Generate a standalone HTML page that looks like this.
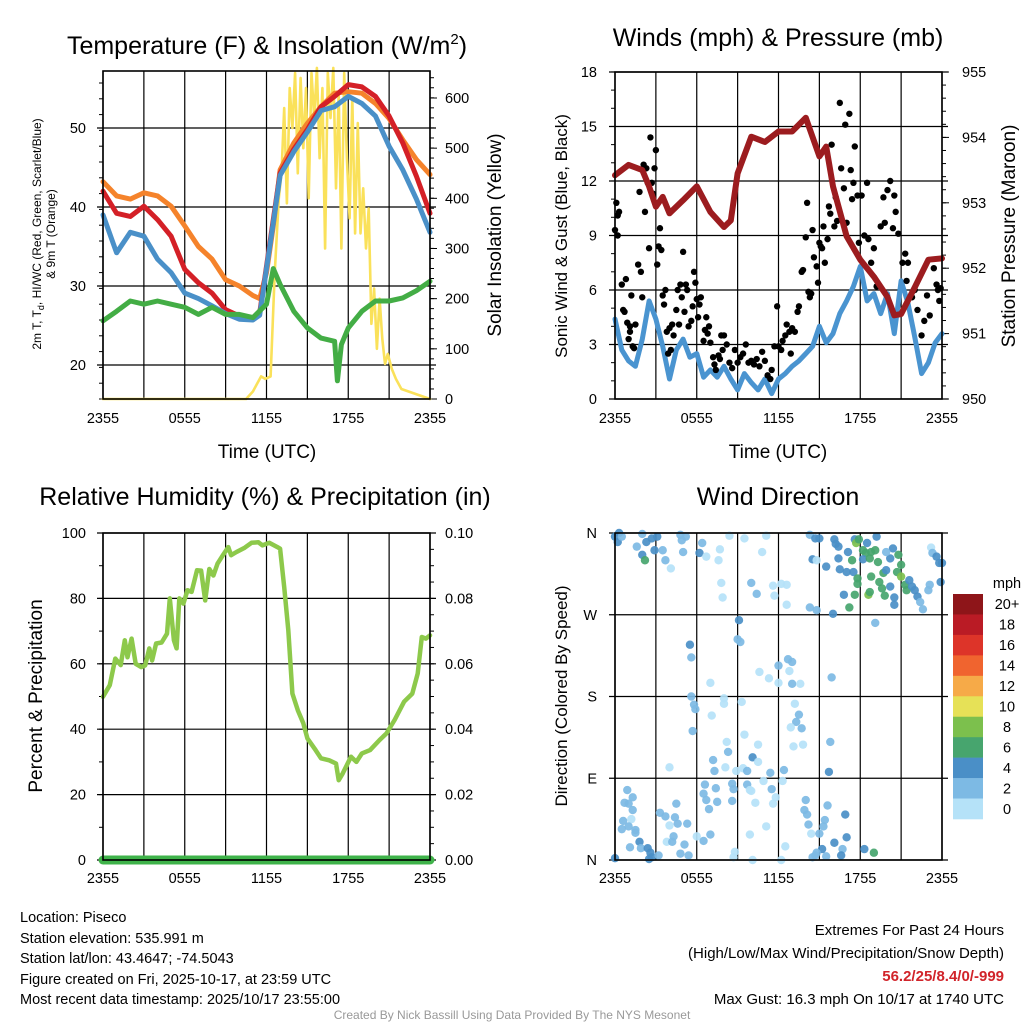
<!DOCTYPE html>
<html><head><meta charset="utf-8"><style>
body{margin:0;background:#fff;}
svg{display:block;font-family:"Liberation Sans",Arial,sans-serif;}
</style></head><body>
<svg id="s" width="1024" height="1024" viewBox="0 0 1024 1024">
<rect width="1024" height="1024" fill="#fff"/>
<g id="g1"></g>
<g id="g2"></g>
<g id="g3"></g>
<g id="g4"></g>
<g id="txt">
<text x="267" y="54" font-size="25" text-anchor="middle">Temperature (F) &amp; Insolation (W/m<tspan font-size="15" dy="-10">2</tspan><tspan dy="10">)</tspan></text>
<text x="778" y="46" font-size="25" text-anchor="middle">Winds (mph) &amp; Pressure (mb)</text>
<text x="265" y="505" font-size="25" text-anchor="middle">Relative Humidity (%) &amp; Precipitation (in)</text>
<text x="778" y="505" font-size="25" text-anchor="middle">Wind Direction</text>
<text x="267" y="458" font-size="19" text-anchor="middle">Time (UTC)</text>
<text x="778" y="458" font-size="19" text-anchor="middle">Time (UTC)</text>
<text transform="translate(41,234) rotate(-90)" font-size="12" text-anchor="middle">2m T, T<tspan font-size="9" dy="3">d</tspan><tspan dy="-3">, HI/WC (Red, Green, Scarlet/Blue)</tspan></text>
<text transform="translate(55,234) rotate(-90)" font-size="12" text-anchor="middle">&amp; 9m T (Orange)</text>
<text transform="translate(501,235) rotate(-90)" font-size="19" text-anchor="middle">Solar Insolation (Yellow)</text>
<text transform="translate(567,236) rotate(-90)" font-size="17" text-anchor="middle">Sonic Wind &amp; Gust (Blue, Black)</text>
<text transform="translate(1015,236) rotate(-90)" font-size="19" text-anchor="middle">Station Pressure (Maroon)</text>
<text transform="translate(42,696) rotate(-90)" font-size="19" text-anchor="middle">Percent &amp; Precipitation</text>
<text transform="translate(567,696) rotate(-90)" font-size="17" text-anchor="middle">Direction (Colored By Speed)</text>
<g font-size="14.5">
<text x="20" y="922">Location: Piseco</text>
<text x="20" y="943">Station elevation: 535.991 m</text>
<text x="20" y="963">Station lat/lon: 43.4647; -74.5043</text>
<text x="20" y="984">Figure created on Fri, 2025-10-17, at 23:59 UTC</text>
<text x="20" y="1004">Most recent data timestamp: 2025/10/17 23:55:00</text>
</g>
<g font-size="15" text-anchor="end">
<text x="1004" y="935">Extremes For Past 24 Hours</text>
<text x="1004" y="958">(High/Low/Max Wind/Precipitation/Snow Depth)</text>
<text x="1004" y="981" fill="#d1242a" font-weight="bold">56.2/25/8.4/0/-999</text>
<text x="1004" y="1004">Max Gust: 16.3 mph On 10/17 at 1740 UTC</text>
</g>
<text x="512" y="1019" font-size="12" fill="#999" text-anchor="middle">Created By Nick Bassill Using Data Provided By The NYS Mesonet</text>
</g>
</svg>
<script>
// ---------- Temperature panel data ----------
const tempHours=[0,1,2,3,4,5,6,7,8,9,10,11,11.5,12,12.5,13,14,15,16,17,18,19,20,21,22,23,24];
const tempRed=[42.0,39.2,38.8,40.1,38.4,36.3,32.1,30.4,29.1,27.0,26.2,26.0,26.6,32.5,38.4,44.3,47.3,49.8,52.7,54.0,55.5,55.2,54.0,51.5,48.1,43.9,39.2];
const tempOrange=[43.2,41.4,41.0,41.8,41.4,40.1,37.6,35.0,33.4,30.8,30.0,28.8,28.4,31.7,37.6,44.7,48.1,50.6,52.7,54.4,54.6,54.4,53.1,51.2,48.5,46.0,44.1];
const tempBlue=[39.0,34.2,36.8,36.3,33.4,31.7,29.1,28.4,27.5,26.5,25.8,25.7,26.3,32.2,38.0,44.0,47.0,49.5,52.2,52.7,54.0,53.1,51.5,47.7,44.7,41.0,36.8];
const dewHours=[0,1,2,3,4,5,6,7,8,9,10,11,12,12.5,13,14,15,16,17,17.2,17.5,18,19,20,21,22,23,24];
const dewGreen=[25.6,26.8,28.1,27.7,28.1,27.7,27.3,26.4,27.3,26.4,26.4,26.0,27.7,32.2,30.2,26.8,24.7,23.4,23.0,18.0,22.6,24.7,26.8,28.1,28.1,28.5,29.4,30.6];
const solarHours=[0,10.5,11,11.3,11.6,11.9,12.3,12.6,12.9,13.1,13.3,13.5,13.7,13.9,14.1,14.3,14.5,14.7,14.9,15.1,15.3,15.5,15.7,15.9,16.1,16.3,16.5,16.7,16.9,17.1,17.3,17.5,17.7,17.9,18.1,18.3,18.5,18.7,18.9,19.1,19.3,19.5,19.7,19.9,20.1,20.3,20.5,20.7,20.9,21.2,21.5,21.9,24];
const solarVals=[0,0,15,30,45,40,45,250,400,450,580,390,620,540,650,450,640,500,620,400,650,560,660,480,620,300,650,560,660,420,610,300,650,480,360,600,330,550,330,420,300,380,150,220,100,200,120,70,90,60,40,20,0,0];
const tempTicks=[20,30,40,50];
const solarTicks=[0,100,200,300,400,500,600];
const timeLabels=["2355","0555","1155","1755","2355"];
// ---------- Winds panel data ----------
const presHours=[0,1,2,2.5,3,3.5,4,5,6,7,8,8.5,9,10,11,12,13,14,15,15.5,16,17,18,19,20,20.5,21,22,23,24];
const presVals=[953.42,953.58,953.5,953.25,952.94,953.09,952.84,953.04,953.25,952.86,952.63,952.73,953.45,954.01,953.93,954.09,954.09,954.3,953.71,953.86,953.25,952.49,952.13,951.87,951.56,951.28,951.3,951.71,952.13,952.15];
const windHours=[0,0.5,1,1.5,2,2.5,3,3.5,4,4.5,5,5.5,6,6.5,7,7.5,8,8.5,9,9.5,10,10.5,11,11.5,12,12.5,13,13.5,14,14.5,15,15.5,16,16.5,17,17.5,18,18.5,19,19.5,20,20.5,21,21.5,22,22.5,23,23.5,24];
const windVals=[4.4,2.7,2.1,1.8,3.3,5.4,4.4,2.9,1.1,2.7,3.3,2.3,2.5,1.2,1.6,1.2,1.8,1.1,0.5,1.4,0.9,0.5,1.1,0.3,1.1,1.4,1.8,2.1,2.5,2.9,4.0,3.1,3.6,4.7,5.4,6.2,7.3,5.4,5.8,4.7,5.8,3.6,6.5,5.3,3.4,1.4,2.0,3.1,3.6];
const gustHours=[0,0.1,0.2,0.2,0.3,0.5,0.6,0.7,0.8,0.9,1.0,1.1,1.1,1.2,1.3,1.4,1.5,1.7,1.8,1.9,2.0,2.1,2.2,2.3,2.4,2.5,2.6,2.7,2.8,2.9,3.0,3.1,3.2,3.3,3.4,3.5,3.6,3.7,3.8,3.9,4.0,4.1,4.2,4.3,4.5,4.6,4.7,4.8,4.9,5.0,5.1,5.2,5.3,5.4,5.6,5.7,5.8,5.9,6.0,6.1,6.2,6.3,6.5,6.6,6.7,6.8,6.9,7.0,7.2,7.3,7.4,7.6,7.7,7.8,7.9,8.0,8.2,8.4,8.6,8.8,9.0,9.2,9.4,9.6,9.8,10.0,10.2,10.4,10.6,10.8,11.0,11.2,11.4,11.5,11.7,11.9,12.0,12.2,12.3,12.5,12.6,12.8,12.9,13.0,13.2,13.4,13.5,13.7,13.8,14.0,14.1,14.2,14.3,14.4,14.5,14.6,14.8,14.9,15.0,15.1,15.2,15.3,15.4,15.6,15.7,15.8,15.9,16.1,16.2,16.3,16.5,16.6,16.8,16.9,17.0,17.2,17.3,17.4,17.5,17.6,17.8,17.9,18.1,18.3,18.5,18.6,18.8,19.0,19.2,19.5,19.7,19.8,20.0,20.2,20.4,20.5,20.6,20.8,21.1,21.3,21.4,21.5,21.8,22.0,22.2,22.5,22.7,22.9,23.1,23.4,23.6,23.7,23.8,23.9];
const gustVals=[9.3,10.8,10.1,9.0,10.3,6.3,4.9,4.8,6.6,4.2,3.3,4.0,3.7,5.7,2.9,2.8,4.1,7.4,11.4,7.0,5.6,12.9,10.3,12.7,11.9,8.3,14.4,11.9,11.3,12.7,13.7,7.4,8.4,9.4,8.2,5.7,5.2,6.0,3.7,2.5,3.9,2.7,4.1,3.5,4.9,6.0,4.1,6.3,5.6,8.1,4.8,6.3,6.0,4.0,4.3,5.1,7.0,6.4,5.5,4.5,5.2,5.6,3.2,3.8,4.5,3.6,4.0,3.1,2.3,1.9,1.6,2.4,2.2,3.5,2.7,3.5,3.0,2.0,1.7,2.7,2.0,2.3,2.5,3.0,2.0,2.1,1.9,2.2,1.8,2.6,2.1,1.3,1.1,1.6,2.9,5.1,2.9,2.7,3.2,3.5,4.1,3.7,2.5,3.9,3.7,4.8,5.1,7.0,7.1,8.9,10.8,5.9,5.6,5.8,9.3,7.8,7.3,6.4,8.6,8.4,8.3,9.5,7.5,8.8,10.6,10.2,14.0,9.5,11.1,9.8,16.3,12.7,11.6,15.1,9.7,15.7,12.6,11.0,11.9,13.9,11.2,8.6,11.2,9.0,11.9,8.8,7.5,8.3,6.2,9.5,11.1,9.7,11.5,12.0,9.4,11.2,10.3,9.1,7.5,8.0,6.5,7.5,5.6,6.0,4.9,3.5,4.3,5.7,4.6,7.2,6.3,6.0,5.4,6.1];
const windTicks=[0,3,6,9,12,15,18];
const presTicks=[950,951,952,953,954,955];
// ---------- Humidity panel data ----------
const rhHours=[0,0.5,0.9,1.3,1.6,1.8,2.1,2.4,2.8,3.1,3.4,3.6,3.9,4.3,4.7,4.9,5.2,5.4,5.6,5.9,6.2,6.5,6.9,7.2,7.5,7.8,8.1,8.4,8.8,9.2,9.4,9.8,10.4,10.9,11.4,11.7,12.2,12.8,13.0,13.3,13.6,13.9,14.3,14.7,15.0,15.6,16.0,16.6,17.1,17.3,17.6,18.2,18.6,19.0,19.6,20.3,20.8,21.4,22.1,22.7,23.1,23.4,23.7,24];
const rhVals=[49.9,53.5,61.6,59.6,67.2,62,67.7,60,59,59.5,64.7,61,66.2,66.5,69.2,80,67.2,64.7,80,78.4,82.5,82,88.6,88.5,79.4,89,87,90.6,93.2,95.7,93.2,94.2,95.5,97,97.2,96.2,97,95.7,95.2,83.5,70.3,50.9,45.8,41.8,37.2,33.6,31.1,30.5,29.5,24.4,26.5,31.6,30,32.6,33.6,36.7,38.7,42.8,48.4,50.9,57,68.2,67.7,68.7];
const precipHours=[0,24];
const precipVals=[0,0];
const rhTicks=[0,20,40,60,80,100];
const precipTickLabels=["0.00","0.02","0.04","0.06","0.08","0.10"];
// ---------- Wind direction panel data ----------
const dirHours=[0.0,0.3,0.2,0.5,2.0,1.6,2.0,2.2,2.3,2.7,3.1,2.9,3.5,3.7,4.1,4.8,4.9,5.2,5.0,6.2,6.4,6.7,7.6,7.7,8.4,9.5,11.1,10.8,10.0,10.4,7.8,7.9,11.6,12.2,12.6,11.7,12.6,14.3,14.7,15.0,14.5,14.8,15.5,16.1,16.2,16.4,17.1,16.4,16.5,17.0,17.5,16.8,14.3,14.8,16.0,17.6,17.7,17.9,18.2,18.4,18.2,18.5,19.2,18.8,19.1,18.7,19.3,17.4,17.8,17.8,17.6,17.2,18.6,18.7,18.8,19.4,19.6,19.8,19.7,19.9,20.2,20.4,19.9,20.8,21.0,20.7,21.0,21.3,21.4,21.6,21.8,22.0,22.2,22.4,22.6,23.0,23.1,23.2,23.3,23.6,23.8,24.0,23.9,20.2,20.5,20.5,19.1,
9.1,9.0,9.2,5.5,5.6,5.6,5.8,5.9,5.7,7.0,7.1,8.0,8.0,9.3,10.6,11.3,12.0,12.0,12.7,13.0,12.8,13.0,13.6,13.2,13.5,13.3,12.9,13.7,13.1,13.8,15.9,15.8,15.7,8.2,8.3,9.5,10.5,10.1,10.5,7.2,7.3,8.1,8.9,9.4,9.7,4.0,11.4,10.9,12.3,12.4,
0.9,1.3,0.7,1.0,1.3,1.2,0.6,1.0,0.5,1.5,1.5,1.1,1.8,1.9,2.4,2.6,2.5,2.7,3.2,3.3,3.7,4.0,3.8,4.3,4.2,4.4,4.6,4.5,5.3,4.8,5.1,5.4,6.0,6.5,7.0,6.6,6.5,6.7,6.9,7.4,7.5,8.6,8.7,8.6,8.8,8.7,9.7,9.9,10.0,10.3,9.9,11.1,11.5,11.8,11.6,10.1,12.2,12.5,14.0,13.9,14.1,14.2,14.4,15.0,15.4,15.3,15.6,16.1,16.9,17.0,16.7,16.6,15.2,14.8,14.7,15.5,14.5,18.3,19.0,0.0];
const dirDeg=[356,360,350,356,359,345,336,330,350,354,356,341,341,330,321,358,352,356,339,338,349,334,330,342,357,354,357,339,305,293,305,289,302,304,303,291,281,358,354,354,331,330,323,353,348,345,339,332,320,317,317,292,278,275,271,353,349,353,341,338,331,349,356,339,341,332,328,330,310,304,292,278,292,295,312,306,299,291,316,319,332,343,339,336,325,317,312,303,297,308,301,297,290,284,276,297,303,344,338,334,327,327,306,301,289,281,261,
264,243,240,237,223,180,171,166,142,195,159,178,172,174,207,200,214,195,221,218,208,194,194,172,160,152,146,145,125,127,201,130,97,130,119,138,127,113,108,110,98,102,98,101,98,102,96,87,87,99,
77,69,63,62,55,45,43,37,34,33,30,14,20,13,13,8,1,3,5,52,48,38,20,26,20,47,40,62,40,7,17,5,26,21,28,83,73,66,56,79,64,84,78,65,9,3,83,77,76,63,28,37,78,69,62,0,0,15,66,55,50,39,29,29,44,37,60,19,50,25,12,5,12,8,5,4,3,12,8,2];
const dirSpeed=[5,5,5,3,3,3,5,7,5,5,5,5,3,3,1,3,3,3,3,5,3,1,1,1,1,1,1,1,3,3,1,1,1,1,1,1,1,3,5,5,5,1,5,5,5,5,5,5,5,5,5,5,3,3,5,5,9,7,7,7,5,5,5,7,7,7,7,7,7,7,7,7,9,7,7,7,7,7,7,5,5,5,3,7,7,7,9,7,7,5,5,5,5,3,3,3,3,1,3,5,5,5,5,5,5,5,3,
5,3,3,5,3,3,3,3,3,1,1,1,1,1,1,1,3,1,3,3,1,3,1,1,3,3,1,3,1,1,3,3,5,1,3,1,1,5,1,3,3,1,1,1,3,1,3,1,1,3,
3,3,3,3,3,1,3,3,3,3,3,3,5,3,5,5,5,5,3,3,3,1,1,3,3,3,3,3,3,3,3,3,1,3,3,3,3,3,3,3,3,3,3,3,1,1,3,1,1,1,1,1,3,1,1,1,1,1,3,3,3,3,1,3,3,3,3,5,5,5,3,5,5,3,3,3,3,5,7,5];
const dirTicks=[0,90,180,270,360];
const dirLabels=["N","E","S","W","N"];
const speedLabels=["0","2","4","6","8","10","12","14","16","18","20+"];
const speedColors=["#b5e2f8","#7dbae4","#4a8fc7","#47a56e","#7cc04d","#e6e157","#f6aa48","#f0642f","#dd3429","#ba1b25","#8e1519"];

const NS="http://www.w3.org/2000/svg";
function el(p,tag,attrs){const e=document.createElementNS(NS,tag);for(const k in attrs)e.setAttribute(k,attrs[k]);p.appendChild(e);return e;}
function lin(d0,d1,r0,r1){return v=>r0+(v-d0)/(d1-d0)*(r1-r0);}
function txt(p,x,y,s,anchor,size){const t=el(p,'text',{x:x,y:y,'font-size':size||14.5,'text-anchor':anchor});t.textContent=s;


return t;}
function pathD(xs,ys,X,Y){return xs.map((h,i)=>(i?'L':'M')+X(h).toFixed(1)+' '+Y(ys[i]).toFixed(1)).join(' ');}
function frame(g,L,R,T,B,X,yGrid){
  for(let h=0;h<=24;h+=3){const l=el(g,'line',{x1:X(h),x2:X(h),y1:T,y2:B,stroke:'#000','stroke-width':1.2});
  
  }
  yGrid.forEach(y=>{const l=el(g,'line',{x1:L-6,x2:R+6,y1:y,y2:y,stroke:'#000','stroke-width':1.2});
  
  });
  timeLabels.forEach((s,i)=>{txt(g,X(i*6),423+(T>500?460:0),s,'middle');});
}
function border(g,L,R,T,B){const r=el(g,'rect',{x:L,y:T,width:R-L,height:B-T,fill:'none',stroke:'#000','stroke-width':1.6});

}
function line(g,xs,ys,X,Y,color,w,name){const p=el(g,'path',{d:pathD(xs,ys,X,Y),fill:'none',stroke:color,'stroke-width':w,'stroke-linejoin':'round','stroke-linecap':'round'});

}
function minor(g,x,y0,y1,step,dir){for(let y=y0;y>=y1-0.1;y-=step){el(g,'line',{x1:x,x2:x+dir*4,y1:y,y2:y,stroke:'#000','stroke-width':1});}}

// Panel 1
(function(){
 const g=document.getElementById('g1');const L=103,R=430,T=71,B=399;
 const X=lin(0,24,L,R),Y=lin(20,50,365,128),Y2=lin(0,600,399,98);
 frame(g,L,R,T,B,X,tempTicks.map(Y));
 tempTicks.forEach(v=>txt(g,L-17,Y(v)+5,String(v),'end'));
 solarTicks.forEach(v=>{txt(g,R+15,Y2(v)+5,String(v),'start');el(g,'line',{x1:R,x2:R+7,y1:Y2(v),y2:Y2(v),stroke:'#000'});});
 minor(g,R,399,71,10.04,1);minor(g,L,B,T,15.8,-1);
 line(g,solarHours,solarVals,X,Y2,'#fae15a',2.6,'solar-insolation-line');
 line(g,tempHours,tempOrange,X,Y,'#f5832b',5,'temp-9m-line');
 line(g,tempHours,tempRed,X,Y,'#d42027',5,'temp-2m-line');
 line(g,tempHours,tempBlue,X,Y,'#4a90c8',5,'heat-index-wind-chill-line');
 line(g,dewHours,dewGreen,X,Y,'#43ad45',5,'dewpoint-line');
 border(g,L,R,T,B);
})();
// Panel 2
(function(){
 const g=document.getElementById('g2');const L=615,R=942,T=72,B=399;
 const X=lin(0,24,L,R),Y=lin(0,18,399,72),Y2=lin(950,955,399,72);
 frame(g,L,R,T,B,X,windTicks.map(Y));
 windTicks.forEach(v=>txt(g,597,Y(v)+5,String(v),'end'));
 presTicks.forEach(v=>{txt(g,962,Y2(v)+5,String(v),'start');el(g,'line',{x1:R,x2:R+7,y1:Y2(v),y2:Y2(v),stroke:'#000'});});
 minor(g,R,399,72,13.08,1);minor(g,L,B,T,18.17,-1);
 line(g,windHours,windVals,X,Y,'#4a94d0',5,'sonic-wind-line');
 gustHours.forEach((h,i)=>{const c=el(g,'circle',{cx:X(h),cy:Y(gustVals[i]),r:3.2,fill:'#000'});
 
 });
 line(g,presHours,presVals,X,Y2,'#9c1c1f',6,'pressure-line');
 border(g,L,R,T,B);
})();
// Panel 3
(function(){
 const g=document.getElementById('g3');const L=103,R=430,T=533,B=860;
 const X=lin(0,24,L,R),Y=lin(0,100,860,533);
 frame(g,L,R,T,B,X,rhTicks.map(Y));
 rhTicks.forEach((v,i)=>{txt(g,L-17,Y(v)+5,String(v),'end');txt(g,R+15,Y(v)+5,precipTickLabels[i],'start');});
 minor(g,R,860,533,16.35,1);minor(g,L,B,T,32.7,-1);
 line(g,rhHours,rhVals,X,Y,'#8dc94b',4.5,'relative-humidity-line');
 line(g,precipHours,precipVals,X,Y,'#3fb34a',9,'precipitation-line');
 border(g,L,R,T,B);
})();
// Panel 4
(function(){
 const g=document.getElementById('g4');const L=615,R=942,T=533,B=860;
 const X=lin(0,24,L,R),Y=lin(0,360,860,533);
 frame(g,L,R,T,B,X,dirTicks.map(Y));
 dirTicks.forEach((v,i)=>txt(g,597,Y(v)+5,dirLabels[i],'end'));
 dirHours.forEach((h,i)=>{const ci=Math.min(10,Math.floor(dirSpeed[i]/2));
 const c=el(g,'circle',{cx:X(h),cy:Y(dirDeg[i]),r:4.2,fill:speedColors[ci],'fill-opacity':0.92});
 
 });
 border(g,L,R,T,B);
 const cb=el(g,'g',{});
 
 
 const top=594,bh=(819-594)/11;
 speedLabels.forEach((s,i)=>{const k=10-i;el(cb,'rect',{x:953,y:top+i*bh,width:30,height:bh+0.3,fill:speedColors[k]});
 txt(cb,1007,top+i*bh+bh/2+5,speedLabels[k],'middle');});
 const m=txt(cb,1007,588,'mph','middle');
 
})();
</script>
</body></html>
